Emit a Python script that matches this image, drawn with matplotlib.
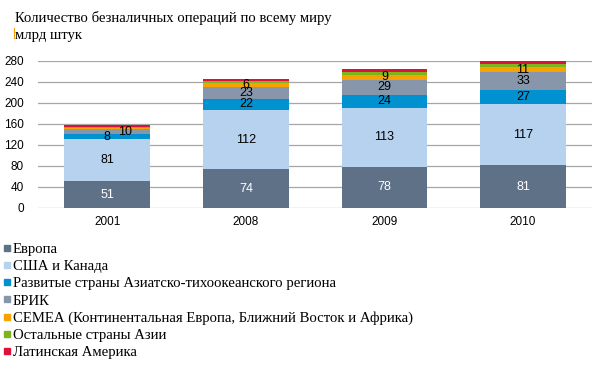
import numpy as np
import matplotlib
matplotlib.use("Agg")
import matplotlib.pyplot as plt
from matplotlib.lines import Line2D

years = ["2001", "2008", "2009", "2010"]
series = ["Европа", "США и Канада",
          "Развитые страны Азиатско-тихоокеанского региона", "БРИК",
          "СЕМЕА (Континентальная Европа, Ближний Восток и Африка)",
          "Остальные страны Азии", "Латинская Америка"]
europe = [51, 74, 78, 81]
usa = [81, 112, 113, 117]
apac = [8, 22, 24, 27]
bric = [10, 23, 29, 33]
cemea = [3, 6, 9, 11]
asia = [2, 5, 6, 6]
latam = [2, 4, 5, 5]
values = [europe, usa, apac, bric, cemea, asia, latam]
colors = ["#5f7186", "#b7d2ef", "#0091d1", "#8796ab", "#f7a200", "#7db51a", "#e0103c"]
# which segments carry a number
shown = [[1, 1, 1, 1], [1, 1, 1, 1], [1, 1, 1, 1], [1, 1, 1, 1],
         [0, 1, 1, 1], [0, 0, 0, 0], [0, 0, 0, 0]]
ticks = [0, 40, 80, 120, 160, 200, 240, 280]

fig = plt.figure(figsize=(6.12, 3.76), dpi=100)
ax = fig.add_axes([0.062, 0.447, 0.906, 0.391])

x = np.arange(len(years))
bottom = np.zeros(len(years))
for i, vals in enumerate(values):
    ax.bar(x, vals, 0.62, bottom=bottom, color=colors[i], zorder=2)
    for j, v in enumerate(vals):
        if shown[i][j]:
            dx = 0.13 if (i == 3 and j == 0) else 0
            ax.text(x[j] + dx, bottom[j] + v / 2, str(v), ha="center", va="center",
                    fontsize=9, family="Liberation Sans",
                    color="white" if i == 0 else "black", zorder=3)
    bottom += np.array(vals)

ax.set_xlim(-0.5, len(years) - 0.5)
ax.set_ylim(0, 280)
ax.set_yticks(ticks)
ax.set_xticks(x)
ax.set_xticklabels(years)
ax.yaxis.grid(True, color="#a6a6a6", lw=0.9, zorder=0)
for s in ax.spines.values():
    s.set_visible(False)
ax.tick_params(axis="both", length=0, labelsize=8.5, pad=6)
ax.tick_params(axis="y", pad=10)
for lab in ax.get_xticklabels() + ax.get_yticklabels():
    lab.set_family("Liberation Sans")

fig.text(0.024, 0.952, "Количество безналичных операций по всему миру",
         family="Liberation Serif", fontsize=10.6, va="center")
fig.text(0.024, 0.906, "млрд штук", family="Liberation Serif", fontsize=10.6, va="center")
fig.add_artist(Line2D([0.023, 0.023], [0.9, 0.925], color="#f7a200", lw=0.8))

handles = [Line2D([], [], marker="s", ls="", color=c, markersize=4.5) for c in colors]
fig.legend(handles, series, loc="upper left", bbox_to_anchor=(0.0, 0.362),
           frameon=False, prop={"family": "Liberation Serif", "size": 10.6},
           handlelength=0.55, handletextpad=0.1, labelspacing=0.26,
           borderaxespad=0, borderpad=0.2)

fig.savefig("out.png", dpi=100)
